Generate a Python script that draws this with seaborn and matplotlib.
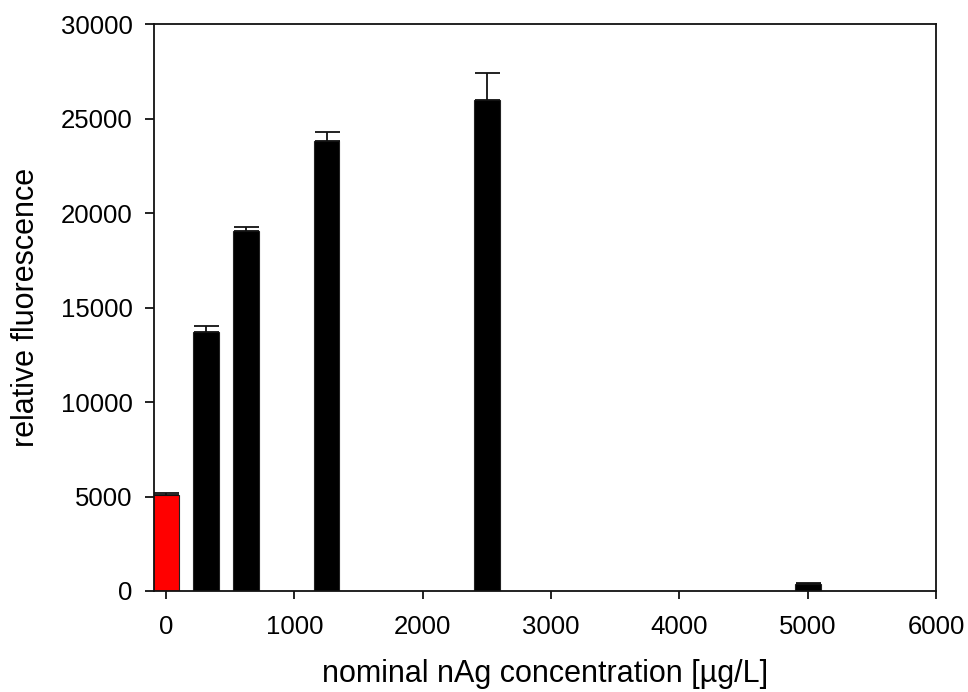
import matplotlib
matplotlib.use("Agg")
import matplotlib.pyplot as plt
import seaborn as sns
import pandas as pd

# nominal nAg concentrations (µg/L) and measured relative fluorescence
concentration = [0, 312.5, 625, 1250, 2500, 5000]
fluorescence = [5100, 13700, 19050, 23800, 26000, 350]
fluorescence_err = [100, 300, 230, 500, 1400, 60]
group = ["control", "nAg", "nAg", "nAg", "nAg", "nAg"]
bar_colors = {"control": "#ff0000", "nAg": "#000000"}

x_ticks = [0, 1000, 2000, 3000, 4000, 5000, 6000]
y_ticks = [0, 5000, 10000, 15000, 20000, 25000, 30000]

df = pd.DataFrame({
    "conc": concentration,
    "fluor": fluorescence,
    "err": fluorescence_err,
    "group": group,
})

sns.set_style("white")
plt.rcParams["font.family"] = ["Liberation Sans", "DejaVu Sans"]
plt.rcParams["text.color"] = "black"
plt.rcParams["axes.labelcolor"] = "black"
plt.rcParams["xtick.color"] = "black"
plt.rcParams["ytick.color"] = "black"

fig = plt.figure(figsize=(9.68, 6.92), dpi=100)
ax = fig.add_axes([0.159, 0.146, 0.808, 0.819])

sns.barplot(
    data=df, x="conc", y="fluor", hue="group", palette=bar_colors,
    native_scale=True, width=0.64, dodge=False, legend=False, saturation=1,
    edgecolor="#222222", linewidth=0.8, errorbar=None, ax=ax,
)

# upper error bars only
ax.errorbar(
    df["conc"], df["fluor"],
    yerr=[[0] * len(df), df["err"]],
    fmt="none", ecolor="#111111", elinewidth=1.3, capsize=9, capthick=1.3,
    zorder=3,
)

ax.set_xlim(-95, 6000)
ax.set_ylim(0, 30000)
ax.set_xticks(x_ticks)
ax.set_xticklabels([str(v) for v in x_ticks])
ax.set_yticks(y_ticks)
ax.set_yticklabels([str(v) for v in y_ticks])

for side in ["left", "right", "top", "bottom"]:
    ax.spines[side].set_visible(True)
    ax.spines[side].set_color("#111111")
    ax.spines[side].set_linewidth(1.3)

ax.tick_params(axis="x", direction="out", length=6, width=1.3, color="#111111",
               labelcolor="black", labelsize=18.5, pad=11, bottom=True)
ax.tick_params(axis="y", direction="out", length=6.5, width=1.3, color="#111111",
               labelcolor="black", labelsize=18.5, pad=9, left=True)

ax.set_xlabel("nominal nAg concentration [µg/L]", fontsize=22, labelpad=15)
ax.set_ylabel("relative fluorescence", fontsize=22, labelpad=14)

fig.savefig("out.png", dpi=100)
